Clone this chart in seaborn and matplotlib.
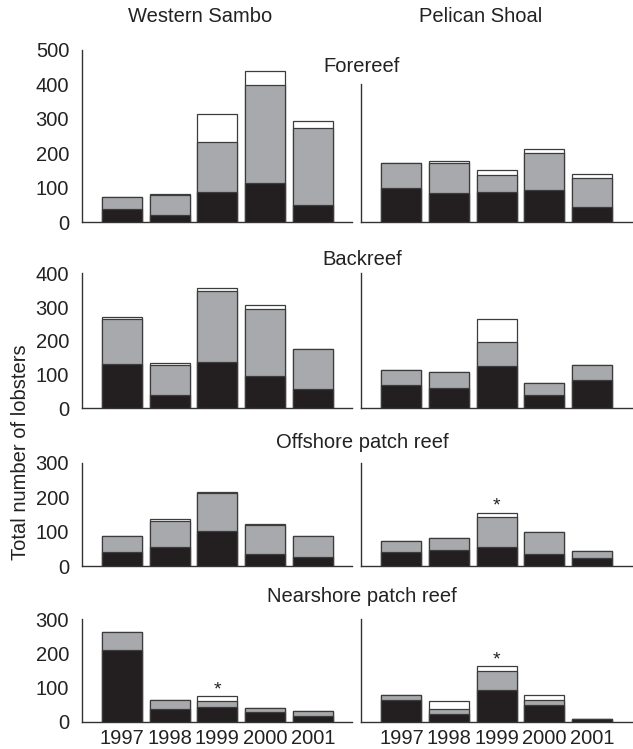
import numpy as np
import pandas as pd
import matplotlib
matplotlib.use("Agg")
import matplotlib.pyplot as plt
import seaborn as sns

# ---------------- data ----------------
years = ["1997", "1998", "1999", "2000", "2001"]
habitats = ["Forereef", "Backreef", "Offshore patch reef", "Nearshore patch reef"]
sites = ["Western Sambo", "Pelican Shoal"]

# segment values: black (bottom), gray (middle), white (top)
ws_fore_black = [38, 20, 89, 113, 50]
ws_fore_gray = [34, 60, 144, 284, 222]
ws_fore_white = [0, 2, 80, 43, 23]
ps_fore_black = [98, 85, 89, 94, 43]
ps_fore_gray = [73, 86, 47, 107, 85]
ps_fore_white = [1, 7, 15, 11, 12]

ws_back_black = [130, 39, 136, 96, 57]
ws_back_gray = [136, 89, 212, 198, 118]
ws_back_white = [4, 5, 8, 12, 0]
ps_back_black = [68, 59, 125, 40, 84]
ps_back_gray = [45, 48, 71, 34, 45]
ps_back_white = [0, 1, 70, 0, 0]

ws_off_black = [40, 56, 103, 35, 25]
ws_off_gray = [48, 76, 108, 84, 63]
ws_off_white = [0, 4, 3, 3, 0]
ps_off_black = [41, 46, 55, 34, 22]
ps_off_gray = [32, 35, 86, 64, 21]
ps_off_white = [0, 0, 14, 0, 0]

ws_near_black = [210, 37, 44, 27, 18]
ws_near_gray = [52, 27, 18, 14, 14]
ws_near_white = [0, 0, 12, 0, 0]
ps_near_black = [63, 23, 94, 50, 8]
ps_near_gray = [16, 15, 56, 13, 0]
ps_near_white = [0, 24, 12, 14, 0]

# significance stars: (habitat, site, year)
stars = [("Offshore patch reef", "Pelican Shoal", "1999"),
         ("Nearshore patch reef", "Western Sambo", "1999"),
         ("Nearshore patch reef", "Pelican Shoal", "1999")]

panels = {
    ("Forereef", "Western Sambo"): (ws_fore_black, ws_fore_gray, ws_fore_white),
    ("Forereef", "Pelican Shoal"): (ps_fore_black, ps_fore_gray, ps_fore_white),
    ("Backreef", "Western Sambo"): (ws_back_black, ws_back_gray, ws_back_white),
    ("Backreef", "Pelican Shoal"): (ps_back_black, ps_back_gray, ps_back_white),
    ("Offshore patch reef", "Western Sambo"): (ws_off_black, ws_off_gray, ws_off_white),
    ("Offshore patch reef", "Pelican Shoal"): (ps_off_black, ps_off_gray, ps_off_white),
    ("Nearshore patch reef", "Western Sambo"): (ws_near_black, ws_near_gray, ws_near_white),
    ("Nearshore patch reef", "Pelican Shoal"): (ps_near_black, ps_near_gray, ps_near_white),
}

rows = []
for (hab, site), (b, g, w) in panels.items():
    for i, yr in enumerate(years):
        rows.append(dict(habitat=hab, site=site, year=yr,
                         black=b[i], gray_top=b[i] + g[i], total=b[i] + g[i] + w[i]))
df = pd.DataFrame(rows)

# ---------------- style ----------------
sns.set_style("white")
plt.rcParams["font.family"] = ["Liberation Sans", "DejaVu Sans"]
FS = 14.5

BLACK = "#231f20"
GRAY = "#a7a9ac"
EDGE = "#3c3c3c"
SPINE = "#333333"

W, H = 633, 749
fig = plt.figure(figsize=(W / 100, H / 100), dpi=100)

# pixel geometry of the panels (top-origin)
col_x = {"Western Sambo": (82, 352), "Pelican Shoal": (361, 632)}
col_xlim = {"Western Sambo": (-0.838, 4.82), "Pelican Shoal": (-0.85, 4.84)}
row_geom = {  # (y pixel of 0, y pixel of ymax, ymax, right-spine top)
    "Forereef": (222.3, 49.8, 500, 400),
    "Backreef": (408.3, 273.3, 400, 400),
    "Offshore patch reef": (566.0, 462.7, 300, 300),
    "Nearshore patch reef": (721.7, 619.3, 300, 300),
}
title_y = {"Forereef": 67, "Backreef": 260, "Offshore patch reef": 442,
           "Nearshore patch reef": 596}

for hab in habitats:
    y0, ytop, ymax, rtop = row_geom[hab]
    for site in sites:
        x0, x1 = col_x[site]
        ax = fig.add_axes([x0 / W, 1 - y0 / H, (x1 - x0) / W, (y0 - ytop) / H])
        sub = df[(df.habitat == hab) & (df.site == site)]
        kw = dict(x="year", order=years, width=0.84, linewidth=0.9,
                  edgecolor=EDGE, ax=ax, errorbar=None, saturation=1)
        sns.barplot(data=sub, y="total", color="white", **kw)
        sns.barplot(data=sub, y="gray_top", color=GRAY, **kw)
        sns.barplot(data=sub, y="black", color=BLACK, **kw)

        for (sh, ss, sy) in stars:
            if sh == hab and ss == site:
                tot = sub.loc[sub.year == sy, "total"].iloc[0]
                ax.annotate("*", (years.index(sy), tot), xytext=(0, -1.5),
                            textcoords="offset points", ha="center", va="bottom",
                            fontsize=14, color="#222222")

        ax.set_xlim(*col_xlim[site])
        ax.set_ylim(0, ymax)
        ax.set_xlabel("")
        ax.set_ylabel("")
        for s in ["top", "right"]:
            ax.spines[s].set_visible(False)
        for s in ["left", "bottom"]:
            ax.spines[s].set_color(SPINE)
            ax.spines[s].set_linewidth(1.0)
        ax.tick_params(axis="x", length=0, pad=5, labelsize=FS, colors="#222222")
        ax.tick_params(axis="y", length=2.5, width=1.2, direction="inout",
                       pad=8, labelsize=FS, colors="#222222")
        ax.set_facecolor("none")
        if site == "Pelican Shoal":
            ax.spines["left"].set_bounds(0, rtop)
            ax.set_yticks(np.arange(0, rtop + 1, 100))
            ax.set_yticklabels([])
        else:
            ax.set_yticks(np.arange(0, ymax + 1, 100))
        if hab != "Nearshore patch reef":
            ax.set_xticklabels([])
        ax.spines["bottom"].set_zorder(0)

    fig.text(362 / W, 1 - title_y[hab] / H, hab, ha="center", va="center",
             fontsize=FS, color="#222222")

fig.text(200 / W, 1 - 17 / H, "Western Sambo", ha="center", va="center",
         fontsize=FS, color="#222222")
fig.text(481 / W, 1 - 17 / H, "Pelican Shoal", ha="center", va="center",
         fontsize=FS, color="#222222")
fig.text(21 / W, 1 - 452 / H, "Total number of lobsters", rotation=90,
         ha="center", va="center", fontsize=FS, color="#222222")

fig.savefig("out.png", dpi=100)
